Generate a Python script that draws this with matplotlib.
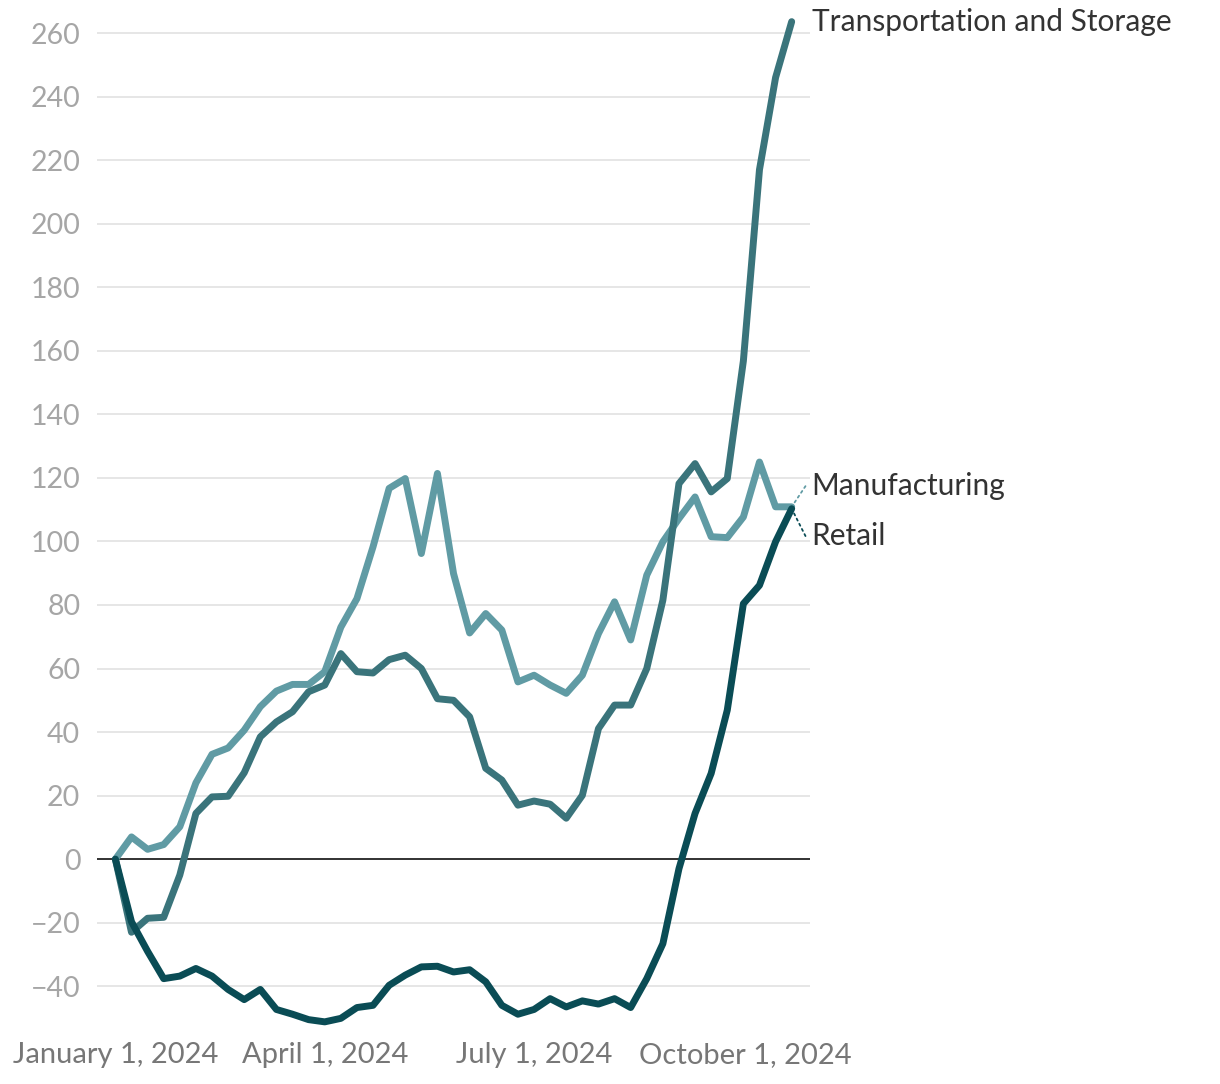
import numpy as np
import pandas as pd
import matplotlib
matplotlib.use("Agg")
from matplotlib import pyplot as plt

# weekly index values, starting Jan 1 2024
dates = pd.date_range("2024-01-01", periods=43, freq="7D")

manufacturing = [0, 7, 3.1, 4.6, 10.2, 24, 33, 35, 40.6, 48, 52.9, 55, 55, 59, 73,
                 82, 98.3, 116.7, 119.8, 96.2, 121.4, 89.9, 71.2, 77.3, 72.1, 55.8,
                 57.9, 54.8, 52.2, 57.9, 71, 81, 69, 89.4, 99.9, 107.2, 114, 101.5,
                 101.2, 107.7, 125, 110.9, 110.9]
transport = [0, -23, -18.6, -18.3, -5, 14.4, 19.6, 19.8, 27.2, 38.5, 43.2, 46.4, 52.7,
             54.8, 64.7, 59, 58.6, 62.8, 64.2, 60, 50.5, 50, 44.8, 28.6, 24.9, 17,
             18.3, 17.3, 12.9, 20.1, 41.1, 48.5, 48.5, 60, 81.5, 118.2, 124.5, 115.6,
             119.8, 156.8, 217, 246, 263.6]
retail = [0, -19.7, -29, -37.6, -36.8, -34.4, -36.8, -41, -44.2, -41, -47.3, -48.8,
          -50.5, -51.2, -50.1, -46.7, -46, -39.7, -36.5, -33.9, -33.7, -35.5, -34.8,
          -38.6, -46, -48.8, -47.3, -43.9, -46.5, -44.6, -45.6, -43.9, -46.7, -37.6,
          -26.6, -3, 14.4, 27, 46.9, 80.4, 86.2, 99.9, 110.3]

yticks = list(range(-40, 261, 20))
xtick_dates = ["2024-01-01", "2024-04-01", "2024-07-01", "2024-10-01"]
xtick_labels = ["January 1, 2024", "April 1, 2024", "July 1, 2024", "October 1, 2024"]

# label name, series, color, label y value
series = [
    ("Manufacturing", manufacturing, "#609ba4", 117.4),
    ("Transportation and Storage", transport, "#3a747b", 263.6),
    ("Retail", retail, "#0a4c55", 101.7),
]

plt.rcParams['font.family'] = ['Lato', 'DejaVu Sans']

fig = plt.figure(figsize=(12.2, 10.84), dpi=100)
ax = fig.add_axes([0.0795, 0.0544, 0.5845, 0.9271])

for y in yticks:
    if y != 0:
        ax.axhline(y, color="#e6e6e6", lw=1.4, zorder=0)
ax.axhline(0, color="#222222", lw=1.3, zorder=1)

for name, vals, col, ly in series:
    ax.plot(dates, vals, color=col, lw=5, solid_joinstyle="round",
            solid_capstyle="round", zorder=3, clip_on=False)
    if name == "Transportation and Storage":
        ax.annotate(name, xy=(dates[-1], vals[-1]), xytext=(20, 0),
                    textcoords="offset pixels", ha="left", va="center",
                    fontsize=21.5, color="#333333", annotation_clip=False)
    else:
        ax.annotate(name, xy=(dates[-1] + pd.Timedelta(days=8.7), ly),
                    ha="left", va="center", fontsize=21.5, color="#333333",
                    annotation_clip=False)
        ax.annotate("", xy=(dates[-1], vals[-1]),
                    xytext=(dates[-1] + pd.Timedelta(days=6), ly),
                    annotation_clip=False,
                    arrowprops=dict(arrowstyle="-", color=col, lw=1.3,
                                    linestyle=(0, (1.2, 2)), shrinkA=0, shrinkB=2))

ax.set_ylim(-52.2, 264.1)
ax.set_xlim(pd.Timestamp("2023-12-24"), pd.Timestamp("2024-10-29"))
ax.set_yticks(yticks)
ax.set_yticklabels([str(v).replace("-", "\u2212") for v in yticks])
ax.set_xticks(pd.to_datetime(xtick_dates))
ax.set_xticklabels(xtick_labels)
ax.tick_params(axis="y", length=0, pad=12, labelsize=20.5, labelcolor="#a6a6a6")
ax.tick_params(axis="x", length=0, pad=12, labelsize=21, labelcolor="#777777")
for s in ax.spines.values():
    s.set_visible(False)

fig.savefig("out.png", dpi=100)
